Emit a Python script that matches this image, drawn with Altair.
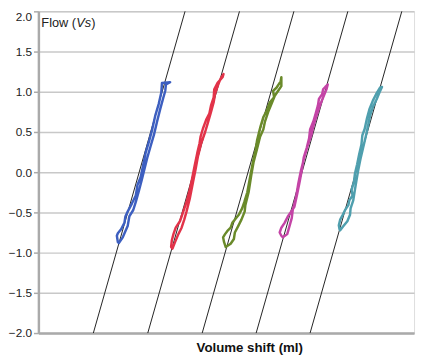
import altair as alt
import pandas as pd

# ---- data (volume shift in ml, flow in l/s) ----
series_names = ["A", "B", "C", "D", "E"]
series_colors = ["#3d5fc0", "#e23349", "#6a8a2a", "#c444a6", "#4f9fae"]

blue_x = [85, 89, 94, 95.7, 99.7, 102.3, 105.7, 108.3, 110.7, 114, 117.3, 120.7, 124, 127.3, 130, 132.3, 133, 137.3,
          129, 128.3, 125.7, 122.3, 119, 115.7, 112.3, 109.7, 107.3, 104, 102.3, 98.3, 94, 91.7, 90.7, 87.3, 84, 83, 84, 85]
blue_y = [-0.88, -0.81, -0.67, -0.55, -0.47, -0.37, -0.22, -0.10, 0.02, 0.18, 0.32, 0.46, 0.63, 0.79, 0.91, 1.01, 1.09, 1.12,
          1.11, 0.99, 0.85, 0.71, 0.53, 0.38, 0.24, 0.08, -0.06, -0.16, -0.29, -0.39, -0.49, -0.55, -0.63, -0.71, -0.76, -0.79, -0.87, -0.88]

red_x = [139.7, 142.3, 145.7, 149, 151.7, 154, 157.3, 160.7, 163.3, 165.7, 169, 173, 175.7, 179, 181.7, 183, 186.3, 189, 191.7,
         190.7, 185.7, 182.3, 181.7, 179, 177.3, 174, 170.7, 168.3, 167.3, 165, 162.3, 159.7, 157.3, 154, 150.7, 147.3, 143, 140.7, 139, 138.3, 139.7]
red_y = [-0.95, -0.87, -0.77, -0.69, -0.59, -0.49, -0.33, -0.12, 0.04, 0.20, 0.36, 0.50, 0.61, 0.75, 0.87, 0.97, 1.09, 1.17, 1.22,
         1.18, 1.11, 1.03, 0.93, 0.83, 0.73, 0.65, 0.54, 0.44, 0.36, 0.24, 0.08, -0.08, -0.22, -0.37, -0.49, -0.61, -0.69, -0.77, -0.85, -0.93, -0.95]

green_x = [194, 199, 202.3, 203.3, 206.7, 210, 213.3, 214, 217.3, 220, 222.3, 225.7, 229, 232.3, 234, 237.3, 240.7, 244, 247.3, 250.7, 250.7,
           250, 245.7, 242.3, 243.3, 239, 236, 232.5, 229.5, 228, 226, 224.5, 223, 221, 218.5, 216, 213, 210.7, 207.3, 204, 200.7, 199, 195.7, 193.3, 191.3, 192.3, 194]
green_y = [-0.93, -0.89, -0.83, -0.75, -0.67, -0.59, -0.49, -0.41, -0.25, -0.04, 0.12, 0.28, 0.44, 0.53, 0.63, 0.75, 0.85, 0.95, 1.01, 1.07, 1.18,
           1.13, 1.05, 1.01, 0.93, 0.87, 0.77, 0.69, 0.57, 0.50, 0.40, 0.28, 0.20, 0.08, -0.08, -0.25, -0.37, -0.45, -0.53, -0.58, -0.63, -0.69, -0.73, -0.77, -0.81, -0.87, -0.93]

mag_x = [252.3, 256.7, 259, 261.3, 262.3, 265.7, 268, 270.7, 274, 277.3, 281.3, 283.3, 285.7, 289, 291.3, 294, 296.7, 298,
         295.5, 293.3, 292.3, 289, 288, 285.7, 283.3, 280, 279, 276.5, 273.5, 271.5, 269, 266.5, 264, 260.7, 257.3, 254, 250.7, 249, 250.7, 252.3]
mag_y = [-0.81, -0.77, -0.67, -0.57, -0.47, -0.31, -0.14, 0.02, 0.18, 0.32, 0.46, 0.57, 0.67, 0.79, 0.87, 0.95, 1.03, 1.09,
         1.06, 1.03, 0.97, 0.91, 0.83, 0.73, 0.63, 0.53, 0.42, 0.30, 0.18, 0.02, -0.14, -0.29, -0.43, -0.49, -0.55, -0.63, -0.69, -0.75, -0.79, -0.81]

teal_x = [310.7, 314, 318, 320.7, 321.3, 324, 325.7, 327.3, 329, 331.3, 334, 336.7, 339, 341.3, 344, 348, 350.7, 353.3,
          351.3, 347.3, 344, 340.7, 338, 335.7, 333.3, 332.3, 330, 328, 325.7, 324.7, 322.3, 323.3, 320, 319, 315.7, 313.3, 310.7, 309.3, 310, 310.7]
teal_y = [-0.72, -0.67, -0.61, -0.53, -0.45, -0.35, -0.22, -0.10, 0.02, 0.16, 0.30, 0.44, 0.57, 0.71, 0.81, 0.91, 0.99, 1.06,
          1.05, 0.97, 0.89, 0.79, 0.67, 0.54, 0.46, 0.34, 0.22, 0.10, -0.02, -0.12, -0.22, -0.29, -0.35, -0.41, -0.47, -0.53, -0.59, -0.66, -0.71, -0.72]

# reference (compliance) lines: x at flow -2 and at flow 2
ref_x_bottom = [59, 114.5, 170, 225, 280]
ref_x_top = [152.5, 208, 263.5, 318.5, 373.5]
ref_y_bottom = -2.0
ref_y_top = 2.0

y_ticks = [-2.0, -1.5, -1.0, -0.5, 0.0, 0.5, 1.0, 1.5, 2.0]
x_domain = [3, 386]

# ---- tables ----
loops = list(zip(series_names, [blue_x, red_x, green_x, mag_x, teal_x], [blue_y, red_y, green_y, mag_y, teal_y]))
rows = []
for name, xs, ys in loops:
    for i, (xv, yv) in enumerate(zip(xs, ys)):
        rows.append({"series": name, "i": i, "vol": xv, "flow": yv})
loop_df = pd.DataFrame(rows)

ref_rows = []
for k, (xb, xt) in enumerate(zip(ref_x_bottom, ref_x_top)):
    ref_rows.append({"line": k, "i": 0, "vol": xb, "flow": ref_y_bottom})
    ref_rows.append({"line": k, "i": 1, "vol": xt, "flow": ref_y_top})
ref_df = pd.DataFrame(ref_rows)

FONT = "Liberation Sans"
GRAY = "#aaaaaa"

x_enc = alt.X("vol:Q",
              scale=alt.Scale(domain=x_domain, nice=False, zero=False),
              axis=alt.Axis(title="Volume shift (ml)", labels=False, ticks=False, grid=False,
                            domainColor=GRAY, domainWidth=2.5,
                            titleFont=FONT, titleFontSize=13.5, titleFontWeight="bold",
                            titleColor="#111111", titleX=215, titleY=15, titleBaseline="middle",
                            titleAnchor="middle", titleAlign="center"))
y_enc = alt.Y("flow:Q",
              scale=alt.Scale(domain=[-2, 2], nice=False, zero=False),
              axis=alt.Axis(title=None, values=y_ticks, format=".1f",
                            labelFont=FONT, labelFontSize=12, labelColor="#222222",
                            labelPadding=2, tickSize=5, tickColor=GRAY, tickWidth=1.5,
                            domainColor=GRAY, domainWidth=2.5,
                            gridColor="#c8c8c8", gridWidth=1.5,
                            labelBaseline={"condition": {"test": "datum.value == 2", "value": "top"},
                                           "value": "middle"}))

ref_lines = alt.Chart(ref_df).mark_line(color="#222222", strokeWidth=1).encode(
    x=x_enc, y=y_enc, detail="line:N", order="i:Q")

loop_lines = alt.Chart(loop_df).mark_line(strokeWidth=2.5, strokeJoin="round", strokeCap="round").encode(
    x=x_enc, y=y_enc,
    color=alt.Color("series:N", scale=alt.Scale(domain=series_names, range=series_colors), legend=None),
    detail="series:N", order="i:Q")

def label(txt, xpos, style):
    return alt.Chart(pd.DataFrame({"t": [txt]})).mark_text(
        align="left", baseline="middle", font=FONT, fontSize=13, fontStyle=style, color="#222222"
    ).encode(x=alt.value(xpos), y=alt.value(12), text="t:N")

chart = alt.layer(
    ref_lines, loop_lines,
    label("Flow (", 3, "normal"), label("Vs", 38.5, "italic"), label(")", 54, "normal"),
).properties(
    width=383, height=328,
    autosize=alt.AutoSizeParams(type="none"),
    padding={"left": 31, "top": 0, "right": 3, "bottom": 21},
).configure_view(strokeWidth=0).configure(background="white")

chart.save("out.html", embed_options={"renderer": "svg", "actions": False})
